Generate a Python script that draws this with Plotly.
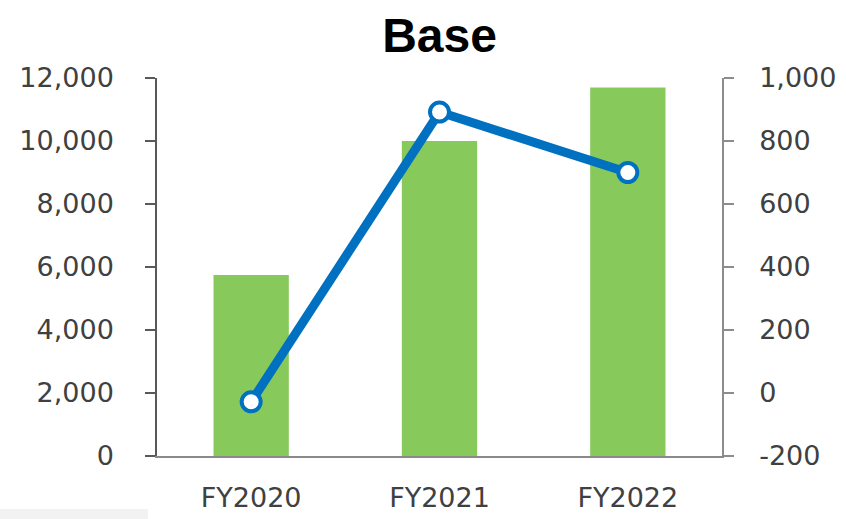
import plotly.graph_objects as go

# Fiscal years and values
categories = ["FY2020", "FY2021", "FY2022"]
bar_values = [5750, 10000, 11700]      # left axis
line_values = [-28, 892, 700]          # right axis

left_ticks = [0, 2000, 4000, 6000, 8000, 10000, 12000]
left_labels = ["0", "2,000", "4,000", "6,000", "8,000", "10,000", "12,000"]
right_ticks = [-200, 0, 200, 400, 600, 800, 1000]
right_labels = ["-200", "0", "200", "400", "600", "800", "1,000"]

BAR_GREEN = "#88C95C"
LINE_BLUE = "#0070C0"
TEXT = "#404040"
TICK_FONT = dict(family="DejaVu Sans", size=27, color=TEXT)

fig = go.Figure()

fig.add_trace(go.Bar(
    x=categories, y=bar_values,
    marker=dict(color=BAR_GREEN, line=dict(width=0)),
    width=0.4, yaxis="y", showlegend=False,
))

fig.add_trace(go.Scatter(
    x=categories, y=line_values, yaxis="y2",
    mode="lines+markers",
    line=dict(color=LINE_BLUE, width=9),
    marker=dict(size=19, color="white", line=dict(color=LINE_BLUE, width=4)),
    cliponaxis=False, showlegend=False,
))

fig.update_layout(
    width=846, height=519,
    margin=dict(l=157, r=124, t=78, b=63),
    paper_bgcolor="white", plot_bgcolor="white",
    title=dict(
        text="<b>Base</b>",
        font=dict(family="Liberation Sans", size=48, color="black"),
        x=0.5, xref="paper", xanchor="center",
        y=1 - 35 / 519, yref="container", yanchor="middle",
    ),
    xaxis=dict(
        showgrid=False, zeroline=False, automargin=False,
        showline=True, linecolor="#8a8a8a", linewidth=2,
        ticks="", tickfont=TICK_FONT, ticklabelstandoff=17,
    ),
    yaxis=dict(
        range=[0, 12000], tickvals=left_ticks, ticktext=left_labels,
        showgrid=False, zeroline=False, automargin=False,
        showline=True, linecolor="#595959", linewidth=1.5,
        ticks="outside", ticklen=10, tickcolor="#595959", tickwidth=1.5,
        tickfont=TICK_FONT, ticklabelstandoff=26,
    ),
    yaxis2=dict(
        range=[-200, 1000], tickvals=right_ticks, ticktext=right_labels,
        overlaying="y", side="right",
        showgrid=False, zeroline=False, automargin=False,
        showline=True, linecolor="#8c8c8c", linewidth=1.5,
        ticks="outside", ticklen=10, tickcolor="#8c8c8c", tickwidth=1.5,
        tickfont=TICK_FONT, ticklabelstandoff=20,
    ),
    shapes=[dict(
        type="rect", xref="paper", yref="paper",
        x0=-0.278, x1=-0.016, y0=-0.1667, y1=-0.140,
        fillcolor="#F2F2F2", line=dict(width=0), layer="below",
    )],
)

fig.write_html("out.html")
